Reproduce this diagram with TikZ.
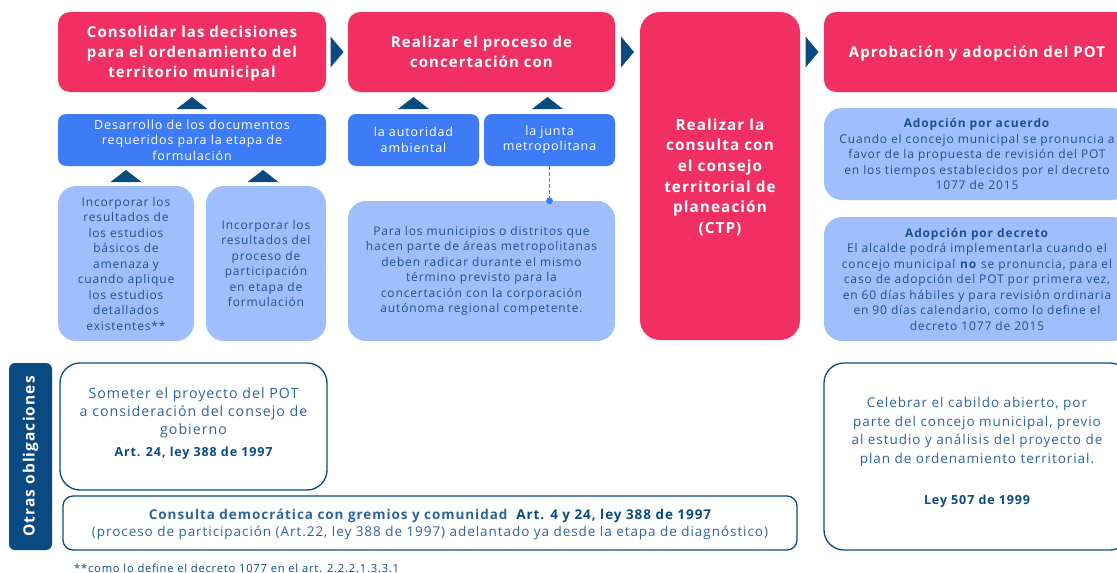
\documentclass[tikz,border=0pt]{standalone}
\usepackage{fontspec}
\setmainfont[LetterSpace=7]{Open Sans}
\usetikzlibrary{calc}
\definecolor{pinkc}{HTML}{F22F62}
\definecolor{bluec}{HTML}{3E7BF7}
\definecolor{lightc}{HTML}{9EBFFB}
\definecolor{navy}{HTML}{0A4A83}
\definecolor{txtc}{HTML}{1F5090}
\definecolor{softtxt}{HTML}{2D62A0}
\newcommand\uptri[1]{\fill[navy] ([shift={(-15.5,6)}]#1) -- ([shift={(15.5,6)}]#1) -- ([shift={(0,-6)}]#1) -- cycle;}
\newcommand\rtri[1]{\fill[navy] ([shift={(-6.5,-15.5)}]#1) -- ([shift={(-6.5,15.5)}]#1) -- ([shift={(6.5,0)}]#1) -- cycle;}
\begin{document}
\begin{tikzpicture}[x=1pt,y=-1pt,
  pinkbox/.style={fill=pinkc, rounded corners=12, text=white, align=center, inner sep=0pt, text depth=0pt,
    font=\bfseries\fontsize{15}{20}\selectfont},
  midbox/.style={fill=bluec, rounded corners=8, text=white, align=center, inner sep=0pt,
    font=\fontsize{12.5}{15.5}\selectfont},
  lightbox/.style={fill=lightc, rounded corners=18, text=txtc, align=center, inner sep=0pt,
    font=\fontsize{12}{15.5}\selectfont},
  outbox/.style={draw=navy, line width=1.3pt, rounded corners=20, text=softtxt, align=center, inner sep=0pt,
    font=\fontsize{13.5}{17.5}\selectfont},
  plaintext/.style={text=softtxt, align=center, inner sep=0pt},
]
\useasboundingbox (0,0) rectangle (1117,573);
\clip (0,0) rectangle (1117,573);
% pink top boxes
\node[pinkbox, minimum width=268, minimum height=80] (A) at (192,52) {Consolidar las decisiones\\para el ordenamiento del\\territorio municipal};
\node[pinkbox, minimum width=267, minimum height=80] (B) at (481.5,52) {Realizar el proceso de\\concertación con};
\node[pinkbox, rounded corners=20, minimum width=160, minimum height=328, font=\bfseries\fontsize{15.3}{20.6}\selectfont] (C) at (720,176) {Realizar la\\consulta con\\el consejo\\territorial de\\planeación\\(CTP)};
\node[pinkbox, minimum width=306, minimum height=80] (D) at (977,52) {Aprobación y adopción del POT};
% right arrows
\coordinate (r1) at ($(A.east)!0.5!(B.west)$);
\coordinate (r2) at ($(B.east)!0.5!(C.west|-B.east)$);
\coordinate (r3) at ($(C.east|-D.west)!0.5!(D.west)$);
\rtri{r1}
\rtri{r2}
\rtri{r3}
% mid blue boxes
\node[midbox, minimum width=268, minimum height=52] (desa) at (192,140) {Desarrollo de los documentos\\requeridos para la etapa de\\formulación};
\node[midbox, minimum width=131, minimum height=52] (aut) at (413.5,140) {la autoridad\\ambiental};
\node[midbox, minimum width=131, minimum height=52] (jun) at (549.5,140) {la junta\\metropolitana};
% light boxes
\node[lightbox, minimum width=136, minimum height=155] (L1) at (126,263.5) {Incorporar los\\resultados de\\los estudios\\básicos de\\amenaza y\\cuando aplique\\los estudios\\detallados\\existentes**};
\node[lightbox, minimum width=120, minimum height=155] (L2) at (266,263.5) {Incorporar los\\resultados del\\proceso de\\participación\\en etapa de\\formulación};
\node[lightbox, minimum width=267, minimum height=140] (L3) at (481.5,271) {Para los municipios o distritos que\\hacen parte de áreas metropolitanas\\deben radicar durante el mismo\\término previsto para la\\concertación con la corporación\\autónoma regional competente.};
\node[lightbox, minimum width=306, minimum height=92] (R1) at (977,154) {\textbf{Adopción por acuerdo}\\Cuando el concejo municipal se pronuncia a\\favor de la propuesta de revisión del POT\\en los tiempos establecidos por el decreto\\1077 de 2015};
\node[lightbox, minimum width=306, minimum height=124] (R2) at (977,279) {\textbf{Adopción por decreto}\\El alcalde podrá implementarla cuando el\\concejo municipal \textbf{no} se pronuncia, para el\\caso de adopción del POT por primera vez,\\en 60 días hábiles y para revisión ordinaria\\en 90 días calendario, como lo define el\\decreto 1077 de 2015};
% up triangles
\coordinate (u1) at ($(A.south)!0.5!(desa.north)$);
\coordinate (u2) at ($(aut.north)!0.5!(aut.north|-B.south)$);
\coordinate (u3) at ($(jun.north)!0.5!(jun.north|-B.south)+(-2,0)$);
\coordinate (u4) at ($(L1.north)!0.5!(L1.north|-desa.south)$);
\coordinate (u5) at ($(L2.north)!0.5!(L2.north|-desa.south)+(-3,0)$);
\uptri{u1}
\uptri{u2}
\uptri{u3}
\uptri{u4}
\uptri{u5}
% dashed connector
\coordinate (dotpt) at (jun.south|-L3.north);
\draw[bluec, line width=1.8pt, dash pattern=on 4pt off 2pt] (jun.south) -- (dotpt);
\fill[bluec] (dotpt) circle (3.4);
% otras obligaciones
\node[fill=navy, rounded corners=6, minimum width=187, minimum height=43, inner sep=0pt, rotate=90, text=white, font=\bfseries\fontsize{15.5}{18}\selectfont] (otras) at (30.5,456.5) {Otras obligaciones};
% outline boxes
\node[outbox, minimum width=267, minimum height=127] (S) at (193.5,426.5) {};
\node[plaintext, font=\fontsize{14.2}{18}\selectfont] (St) at ($(S.center)+(0,-3)$) {Someter el proyecto del POT\\a consideración del consejo de\\gobierno\\[4pt]{\color{navy}\bfseries\fontsize{12.5}{15}\selectfont Art. 24, ley 388 de 1997}};
\node[outbox, rounded corners=10, minimum width=734, minimum height=54, text depth=0pt] (CD) at (430,523) {{\bfseries Consulta democrática con gremios y comunidad\ \ {\color{navy}Art. 4 y 24, ley 388 de 1997}}\\(proceso de participación (Art.22, ley 388 de 1997) adelantado ya desde la etapa de diagnóstico)};
\node[outbox, minimum width=306, minimum height=187] (CA) at (977,456.5) {};
\node[plaintext, font=\fontsize{13.5}{18.5}\selectfont] (CAt) at ($(CA.center)+(0,-4)$) {Celebrar el cabildo abierto, por\\parte del concejo municipal, previo\\al estudio y análisis del proyecto de\\plan de ordenamiento territorial.\\[23pt]{\color{navy}\bfseries\fontsize{12.5}{15}\selectfont Ley 507 de 1999}};
% footnote
\node[anchor=west, text=navy, inner sep=0pt, font=\fontsize{11.2}{13}\selectfont] (fn) at (74,568) {**como lo define el decreto 1077 en el art. 2.2.2.1.3.3.1};
\end{tikzpicture}
\end{document}
